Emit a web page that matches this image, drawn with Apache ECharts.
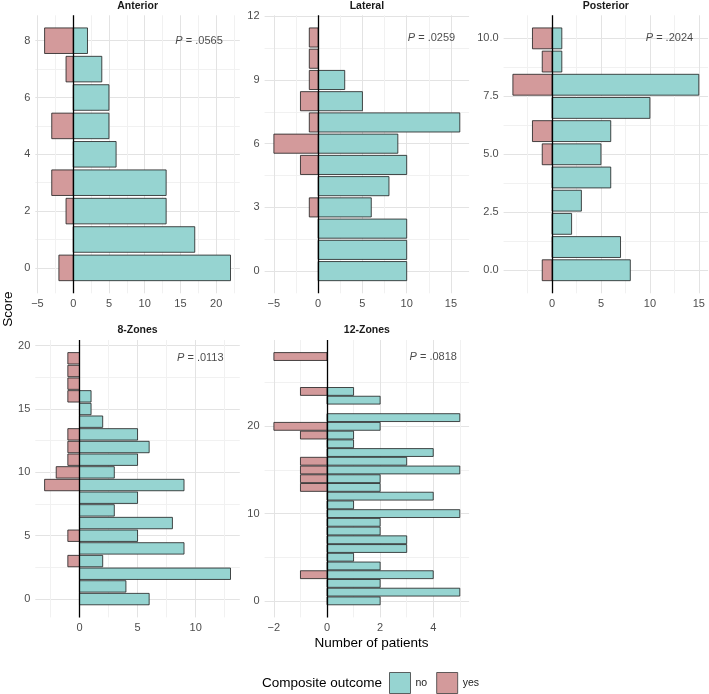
<!DOCTYPE html>
<html><head><meta charset="utf-8">
<script src="https://cdn.jsdelivr.net/npm/echarts@6/dist/echarts.min.js"></script>
<style>html,body{margin:0;padding:0;background:#fff}#c{width:709px;height:694px}</style>
</head><body><div id="c"></div>
<script>
// ---------------- DATA ----------------
const anteriorScores = [0, 1, 2, 3, 4, 5, 6, 7, 8];
const anteriorNo     = [22, 17, 13, 13, 6, 5, 5, 4, 2];
const anteriorYes    = [-2, 0, -1, -3, 0, -3, 0, -1, -4];
const anteriorXTicks = [-5, 0, 5, 10, 15, 20];
const anteriorYTicks = [0, 2, 4, 6, 8];

const lateralScores = [0, 1, 2, 3, 4, 5, 6, 7, 8, 9, 10, 11];
const lateralNo     = [10, 10, 10, 6, 8, 10, 9, 16, 5, 3, 0, 0];
const lateralYes    = [0, 0, 0, -1, 0, -2, -5, -1, -2, -1, -1, -1];
const lateralXTicks = [-5, 0, 5, 10, 15];
const lateralYTicks = [0, 3, 6, 9, 12];

const posteriorScores = [0, 1, 2, 3, 4, 5, 6, 7, 8, 9, 10];
const posteriorNo     = [8, 7, 2, 3, 6, 5, 6, 10, 15, 1, 1];
const posteriorYes    = [-1, 0, 0, 0, 0, -1, -2, 0, -4, -1, -2];
const posteriorXTicks = [0, 5, 10, 15];
const posteriorYTicks = [0, 2.5, 5, 7.5, 10];

const zones8Scores = [0, 1, 2, 3, 4, 5, 6, 7, 8, 9, 10, 11, 12, 13, 14, 15, 16, 17, 18, 19];
const zones8No     = [6, 4, 13, 2, 9, 5, 8, 3, 5, 9, 3, 5, 6, 5, 2, 1, 1, 0, 0, 0];
const zones8Yes    = [0, 0, 0, -1, 0, -1, 0, 0, 0, -3, -2, -1, -1, -1, 0, 0, -1, -1, -1, -1];
const zones8XTicks = [0, 5, 10];
const zones8YTicks = [0, 5, 10, 15, 20];

const zones12Scores = [0, 1, 2, 3, 4, 5, 6, 7, 8, 9, 10, 11, 12, 13, 14, 15, 16, 17, 18, 19, 20, 21, 22, 23, 24, 25, 26, 27, 28];
const zones12No     = [2, 5, 2, 4, 2, 1, 3, 3, 2, 2, 5, 1, 4, 2, 2, 5, 3, 4, 1, 1, 2, 5, 0, 2, 1, 0, 0, 0, 0];
const zones12Yes    = [0, 0, 0, -1, 0, 0, 0, 0, 0, 0, 0, 0, 0, -1, -1, -1, -1, 0, 0, -1, -2, 0, 0, 0, -1, 0, 0, 0, -2];
const zones12XTicks = [-2, 0, 2, 4];
const zones12YTicks = [0, 10, 20];

const panelTitles = ['Anterior', 'Lateral', 'Posterior', '8-Zones', '12-Zones'];
const pValues = ['.0565', '.0259', '.2024', '.0113', '.0818'];
const seriesNames = ['no', 'yes'];

// ---------------- STYLE / LAYOUT ----------------
const FONT = "'Liberation Sans', Arial, Helvetica, sans-serif";
const COL_NO = '#96d4d1';
const COL_YES = '#d39a9b';
const BORDER = 'rgba(30,30,30,0.8)';
const L = { colLeft: [35.3, 264.6, 503.6], width: 204.5, rowTop: [15.3, 340], rowHeight: [278, 277.4] };
const cells = [[0, 0], [0, 1], [0, 2], [1, 0], [1, 1]];
const BAR_HALF = 0.45;

const panels = [
  { s: anteriorScores, no: anteriorNo, yes: anteriorYes, xt: anteriorXTicks, yt: anteriorYTicks, dec: 0 },
  { s: lateralScores, no: lateralNo, yes: lateralYes, xt: lateralXTicks, yt: lateralYTicks, dec: 0 },
  { s: posteriorScores, no: posteriorNo, yes: posteriorYes, xt: posteriorXTicks, yt: posteriorYTicks, dec: 1 },
  { s: zones8Scores, no: zones8No, yes: zones8Yes, xt: zones8XTicks, yt: zones8YTicks, dec: 0 },
  { s: zones12Scores, no: zones12No, yes: zones12Yes, xt: zones12XTicks, yt: zones12YTicks, dec: 0 }
];

function expand(lo, hi) { const s = hi - lo; return [lo - 0.05 * s, hi + 0.05 * s]; }
function minors(ticks, r) {
  const step = ticks[1] - ticks[0];
  const out = ticks.map(v => v - step / 2).concat([ticks[ticks.length - 1] + step / 2]);
  return out.filter(v => v > r[0] && v < r[1]);
}
function fmt(dec) {
  return v => { const t = Math.abs(v).toFixed(dec); return v < 0 ? '\u2212' + t : t; };
}
function barRender(fill) {
  return function (params, api) {
    const y = api.value(0), x = api.value(1);
    const a = api.coord([0, y + BAR_HALF]);
    const b = api.coord([x, y - BAR_HALF]);
    return {
      type: 'rect',
      shape: { x: Math.min(a[0], b[0]), y: Math.min(a[1], b[1]), width: Math.abs(b[0] - a[0]), height: Math.abs(b[1] - a[1]) },
      style: { fill: fill, stroke: BORDER, lineWidth: 1 }
    };
  };
}

const grids = [], xAxes = [], yAxes = [], series = [], graphics = [];
const labelStyle = { color: '#4d4d4d', fontSize: 11, fontFamily: FONT };

panels.forEach((p, i) => {
  const [r, c] = cells[i];
  grids.push({ left: L.colLeft[c], top: L.rowTop[r], width: L.width, height: L.rowHeight[r], containLabel: false });
  const xr = expand(Math.min(0, ...p.yes), Math.max(0, ...p.no));
  const yr = expand(Math.min(...p.s) - BAR_HALF, Math.max(...p.s) + BAR_HALF);
  const xm = minors(p.xt, xr), ym = minors(p.yt, yr);
  // major axes
  xAxes.push({ type: 'value', gridIndex: i, min: xr[0], max: xr[1], position: 'bottom',
    axisLine: { show: false }, axisTick: { show: false, customValues: p.xt },
    axisLabel: Object.assign({ customValues: p.xt, formatter: fmt(0), margin: 5 }, labelStyle),
    splitLine: { show: true, lineStyle: { color: '#e3e3e3', width: 1 } } });
  yAxes.push({ type: 'value', gridIndex: i, min: yr[0], max: yr[1], position: 'left',
    axisLine: { show: false }, axisTick: { show: false, customValues: p.yt },
    axisLabel: Object.assign({ customValues: p.yt, formatter: fmt(p.dec), margin: 5 }, labelStyle),
    splitLine: { show: true, lineStyle: { color: '#e3e3e3', width: 1 } } });
  // minor axes (gridlines only)
  xAxes.push({ type: 'value', gridIndex: i, min: xr[0], max: xr[1], position: 'top',
    axisLine: { show: false }, axisTick: { show: false, customValues: xm },
    axisLabel: { show: false }, splitLine: { show: true, lineStyle: { color: '#f1f1f1', width: 1 } } });
  yAxes.push({ type: 'value', gridIndex: i, min: yr[0], max: yr[1], position: 'right',
    axisLine: { show: false }, axisTick: { show: false, customValues: ym },
    axisLabel: { show: false }, splitLine: { show: true, lineStyle: { color: '#f1f1f1', width: 1 } } });

  [[p.no, COL_NO, 'no'], [p.yes, COL_YES, 'yes']].forEach(([vals, col, name]) => {
    series.push({
      type: 'custom', name: name, xAxisIndex: 2 * i, yAxisIndex: 2 * i, z: 3,
      itemStyle: { color: col, borderColor: BORDER, borderWidth: 1 },
      data: p.s.map((s, k) => [s, vals[k]]).filter(d => d[1] !== 0),
      renderItem: barRender(col), silent: true
    });
  });

  // P-value annotation + zero line
  const maxNo = Math.max(...p.no), maxS = Math.max(...p.s);
  series.push({
    type: 'scatter', xAxisIndex: 2 * i, yAxisIndex: 2 * i, z: 10, silent: true,
    symbolSize: 0, data: [[0.8 * maxNo, maxS]],
    label: { show: true, position: 'inside', formatter: '{i|P} = ' + pValues[i],
      color: '#1a1a1a', fontSize: 11, fontFamily: FONT,
      rich: { i: { fontStyle: 'italic', fontSize: 11, fontFamily: FONT, color: '#1a1a1a' } } },
    markLine: { silent: true, symbol: ['none', 'none'], label: { show: false },
      lineStyle: { color: '#000', width: 1.3, type: 'solid' }, data: [{ xAxis: 0 }], animation: false }
  });

  graphics.push({ type: 'text', x: L.colLeft[c] + L.width / 2, y: L.rowTop[r] - 9.5,
    style: { text: panelTitles[i], textAlign: 'center', textVerticalAlign: 'middle',
      font: 'bold 10.5px ' + FONT, fill: '#1a1a1a' } });
});

graphics.push({ type: 'text', x: 371.5, y: 643, style: { text: 'Number of patients', textAlign: 'center', textVerticalAlign: 'middle', font: '13.5px ' + FONT, fill: '#000' } });
graphics.push({ type: 'text', x: 8.5, y: 309, rotation: Math.PI / 2, style: { text: 'Score', textAlign: 'center', textVerticalAlign: 'middle', font: '13.5px ' + FONT, fill: '#000' } });
graphics.push({ type: 'text', x: 262, y: 683, style: { text: 'Composite outcome', textAlign: 'left', textVerticalAlign: 'middle', font: '13.5px ' + FONT, fill: '#000' } });

const chart = echarts.init(document.getElementById('c'), null, { renderer: 'canvas' });
chart.setOption({
  animation: false,
  backgroundColor: '#fff',
  grid: grids, xAxis: xAxes, yAxis: yAxes, series: series,
  graphic: graphics,
  legend: {
    left: 389, top: 672, padding: 0, orient: 'horizontal', itemWidth: 21, itemHeight: 21, itemGap: 9,
    selectedMode: false,
    textStyle: { fontSize: 10.5, fontFamily: FONT, color: '#1a1a1a' },
    data: seriesNames.map((n, k) => ({ name: n, icon: 'rect',
      itemStyle: { color: k === 0 ? COL_NO : COL_YES, borderColor: 'rgba(60,60,60,0.8)', borderWidth: 1 } }))
  }
});
</script></body></html>
